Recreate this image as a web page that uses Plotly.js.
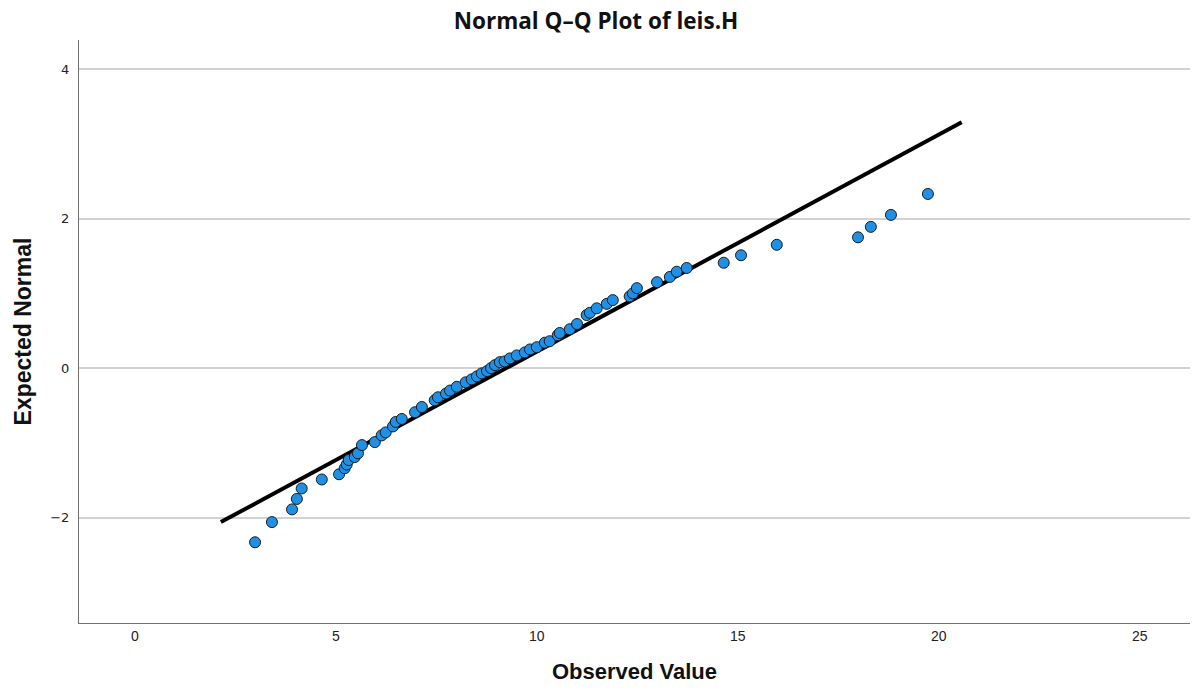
<!DOCTYPE html>
<html>
<head>
<meta charset="utf-8">
<script src="https://cdn.plot.ly/plotly-3.0.1.min.js"></script>
<style>html,body{margin:0;padding:0;background:#fff;}#chart{width:1192px;height:697px;}</style>
</head>
<body>
<div id="chart"></div>
<script>
// Observed values (x) and expected normal quantiles (y)
var observed = [2.99, 3.41, 3.91, 4.03, 4.15, 4.65, 5.08, 5.22, 5.27, 5.32, 5.47, 5.55, 5.65, 5.97, 6.14, 6.24, 6.42, 6.49, 6.64, 6.97, 7.14, 7.46, 7.54, 7.74, 7.84, 8.01, 8.23, 8.38, 8.51, 8.63, 8.76, 8.86, 8.96, 9.08, 9.20, 9.33, 9.50, 9.70, 9.83, 10.00, 10.20, 10.32, 10.52, 10.57, 10.82, 11.00, 11.24, 11.32, 11.49, 11.74, 11.89, 12.31, 12.39, 12.49, 12.99, 13.31, 13.48, 13.73, 14.65, 15.08, 15.97, 17.99, 18.31, 18.81, 19.73];
var expected = [-2.33, -2.06, -1.89, -1.75, -1.61, -1.49, -1.42, -1.34, -1.29, -1.23, -1.19, -1.14, -1.03, -0.99, -0.90, -0.86, -0.78, -0.72, -0.68, -0.59, -0.52, -0.43, -0.39, -0.34, -0.30, -0.25, -0.19, -0.15, -0.11, -0.07, -0.04, 0.00, 0.04, 0.08, 0.09, 0.13, 0.17, 0.21, 0.25, 0.28, 0.34, 0.36, 0.44, 0.47, 0.52, 0.59, 0.71, 0.74, 0.80, 0.86, 0.91, 0.96, 1.00, 1.07, 1.15, 1.22, 1.29, 1.34, 1.41, 1.51, 1.65, 1.75, 1.89, 2.05, 2.33];
// Reference line end points
var lineX = [2.14, 20.57];
var lineY = [-2.06, 3.29];
var xTicks = [0, 5, 10, 15, 20, 25];
var yTicks = [-2, 0, 2, 4];

var traces = [
  {x: lineX, y: lineY, type: 'scatter', mode: 'lines', line: {color: '#000000', width: 4}, hoverinfo: 'skip'},
  {x: observed, y: expected, type: 'scatter', mode: 'markers',
   marker: {size: 11, color: '#1f90e6', line: {color: '#1b1b1b', width: 1}}}
];

var layout = {
  width: 1192, height: 697,
  paper_bgcolor: '#ffffff', plot_bgcolor: '#ffffff',
  showlegend: false,
  margin: {l: 79, r: 2, t: 40, b: 74},
  title: {text: 'Normal Q\u2013Q Plot of leis.H', x: 0.5, xanchor: 'center', y: 0.97, yanchor: 'middle',
          font: {family: 'Open Sans, DejaVu Sans, sans-serif', size: 22.5, color: '#111111', weight: 'bold'}},
  xaxis: {
    range: [-1.39, 26.25], tickvals: xTicks, ticktext: xTicks.map(String),
    showgrid: false, zeroline: false, showline: true, linecolor: '#707070', linewidth: 1,
    ticks: '', ticklen: 0, automargin: false,
    tickfont: {family: 'Liberation Sans Narrow, Arial Narrow, sans-serif', size: 14, color: '#222222'},
    title: {text: 'Observed Value', standoff: 20,
            font: {family: 'Liberation Sans Narrow, Arial Narrow, sans-serif', size: 22, color: '#111111', weight: 'bold'}}
  },
  yaxis: {
    range: [-3.41, 4.39], tickvals: yTicks, ticktext: ['\u22122', '0', '2', '4'],
    showgrid: true, gridcolor: '#d2d2d2', gridwidth: 2,
    zeroline: false, showline: true, linecolor: '#707070', linewidth: 1,
    ticks: '', ticklen: 0, automargin: false, ticklabelstandoff: 6,
    tickfont: {family: 'DejaVu Sans, sans-serif', size: 13, color: '#222222'},
    title: {text: 'Expected Normal', standoff: 12,
            font: {family: 'Liberation Sans Narrow, Arial Narrow, sans-serif', size: 23, color: '#111111', weight: 'bold'}}
  }
};

Plotly.newPlot('chart', traces, layout, {displayModeBar: false, staticPlot: true});
</script>
</body>
</html>
